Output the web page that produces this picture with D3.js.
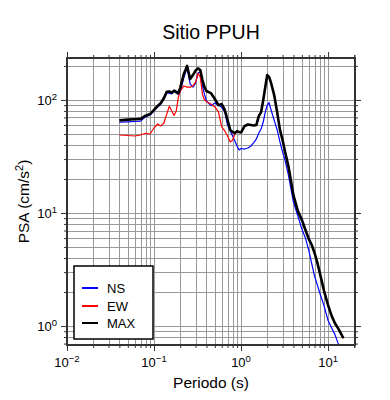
<!DOCTYPE html>
<html>
<head>
<meta charset="utf-8">
<script src="https://cdn.jsdelivr.net/npm/d3@7"></script>
<style>
html,body{margin:0;padding:0;background:#fff;}
svg{display:block;font-family:"Liberation Sans",Arial,Helvetica,sans-serif;}
</style>
</head>
<body>
<script>
const title = "Sitio PPUH";
const xLabel = "Periodo (s)";
const periods = [0.04,0.05,0.06,0.07,0.08,0.09,0.1,0.11,0.12,0.13,0.14,0.15,0.16,0.17,0.18,0.19,0.2,
  0.22,0.24,0.26,0.28,0.3,0.32,0.34,0.36,0.38,0.4,
  0.45,0.5,0.55,0.6,0.65,0.7,0.75,0.8,0.85,0.9,0.95,
  1.0,1.1,1.2,1.3,1.4,1.5,1.6,1.7,1.8,1.9,2.0,
  2.1,2.2,2.4,2.6,2.8,3.0,3.2,3.5,
  4.0,4.5,5.0,5.5,6.0,6.5,7.0,7.5,8.0,
  9,10,11,12,13,14,15];
const ns = [63.5,64,64.5,65,70.8,73.6,80,86.7,92,102,115,115,113,119,115,112,118,
  157,192,139,130,141,173,177,133,112,98,
  89,94,90,86,78.5,60,53.2,48,43.4,39.2,36.1,
  37.2,36.8,37.6,39.2,42,45.2,51,55.4,63.8,78.3,90,
  94.5,83,66.5,54.3,42.5,34.7,29.4,21.7,
  12.5,9.4,7.2,6.0,4.7,3.55,2.75,2.34,1.98,
  1.51,1.12,0.96,0.84,0.71,0.62,0.55];
const ew = [49,48.5,48,49,50.7,50,56.5,61.3,58.9,62.5,75,88,80,73,80,105,120,
  133,130,130,133,144,172,160,112,100,97,
  92,86.7,78.3,57.7,53.2,48,42.5,44.3,50,53,52,
  51.5,58.9,60.7,60,59.4,60.1,72,78,100,130,166,
  160,144,111,78,54.3,44.3,35,26,
  14.4,10.4,8.7,7.07,5.9,5.21,4.43,3.68,3.0,
  2.04,1.53,1.23,1.06,0.96,0.867,0.78];
const maxv = [66,67,67.5,68,72.6,75,81.6,88.5,94,104,118,119,116,121,118,115,128,
  170,200,153,166,182,190,184,150,130,120,
  115,102,90,92,81.6,66.5,54.3,52,51,53,52,
  51.5,58.9,60.7,60,59.4,60.1,72,78,100,130,166,
  160,144,111,78,54.3,44.3,35,26,
  14.4,10.4,8.7,7.07,5.9,5.21,4.43,3.68,3.0,
  2.04,1.53,1.23,1.06,0.96,0.867,0.78];
const seriesNames = ["NS","EW","MAX"];
const seriesColors = ["#0000ff","#ff0000","#000000"];
const xMajor = [0.01,0.1,1,10];
const xMajorExp = ["−2","−1","0","1"];
const yMajor = [1,10,100];
const yMajorExp = ["0","1","2"];

const W = 390, H = 400;
const L = 67, R = 355, T = 58, B = 345;
const x = d3.scaleLog().domain([0.01, 20.4]).range([L, R]);
const y = d3.scaleLog().domain([0.68, 235]).range([B, T]);

const xMinor = [];
[0.01,0.1,1,10].forEach(d => { for (let k=2;k<=9;k++){ const v=d*k; if (v<=20.4) xMinor.push(v);} });
xMinor.push(20);
const yMinor = [0.7,0.8,0.9];
[1,10,100].forEach(d => { for (let k=2;k<=9;k++){ const v=d*k; if (v<=235) yMinor.push(v);} });

const svg = d3.select("body").append("svg").attr("width",W).attr("height",H);
svg.append("rect").attr("width",W).attr("height",H).attr("fill","#fff");

const grid = svg.append("g").attr("stroke","#999").attr("stroke-width",1);
xMajor.concat(xMinor).forEach(v => {
  const px = Math.round(x(v)) + 0.5;
  grid.append("line").attr("x1",px).attr("x2",px).attr("y1",T).attr("y2",B);
});
yMajor.concat(yMinor).forEach(v => {
  const py = Math.round(y(v)) + 0.5;
  grid.append("line").attr("x1",L).attr("x2",R).attr("y1",py).attr("y2",py);
});

function styleAxis(g){ g.select(".domain").remove(); g.selectAll("line").attr("stroke","#333"); g.selectAll("text").remove(); }
svg.append("g").attr("transform",`translate(0,${B})`).call(d3.axisBottom(x).tickValues(xMajor).tickSize(6).tickSizeOuter(0)).call(styleAxis);
svg.append("g").attr("transform",`translate(0,${B})`).call(d3.axisBottom(x).tickValues(xMinor).tickSize(3).tickSizeOuter(0)).call(styleAxis);
svg.append("g").attr("transform",`translate(0,${T})`).call(d3.axisTop(x).tickValues(xMajor).tickSize(6).tickSizeOuter(0)).call(styleAxis);
svg.append("g").attr("transform",`translate(0,${T})`).call(d3.axisTop(x).tickValues(xMinor).tickSize(3).tickSizeOuter(0)).call(styleAxis);
svg.append("g").attr("transform",`translate(${L},0)`).call(d3.axisLeft(y).tickValues(yMajor).tickSize(6).tickSizeOuter(0)).call(styleAxis);
svg.append("g").attr("transform",`translate(${L},0)`).call(d3.axisLeft(y).tickValues(yMinor).tickSize(3).tickSizeOuter(0)).call(styleAxis);
svg.append("g").attr("transform",`translate(${R},0)`).call(d3.axisRight(y).tickValues(yMajor).tickSize(6).tickSizeOuter(0)).call(styleAxis);
svg.append("g").attr("transform",`translate(${R},0)`).call(d3.axisRight(y).tickValues(yMinor).tickSize(3).tickSizeOuter(0)).call(styleAxis);

svg.append("clipPath").attr("id","clip").append("rect").attr("x",L).attr("y",T).attr("width",R-L).attr("height",B-T);

const line = d3.line().x(d => x(d[0])).y(d => y(d[1]));
const seriesData = [ns, ew, maxv];
const widths = [1.2, 1.2, 2.6];
const plot = svg.append("g").attr("clip-path","url(#clip)");
seriesData.forEach((vals,i) => {
  plot.append("path").datum(periods.map((p,j)=>[p, vals[j]]))
    .attr("fill","none").attr("stroke",seriesColors[i]).attr("stroke-width",widths[i])
    .attr("stroke-linejoin","round").attr("d", line);
});

svg.append("rect").attr("x",L).attr("y",T).attr("width",R-L).attr("height",B-T)
  .attr("fill","none").attr("stroke","#333").attr("stroke-width",2);

xMajor.forEach((v,i) => {
  const t = svg.append("text").attr("x", x(v)).attr("y", 367).attr("text-anchor","middle")
    .attr("font-size",13).attr("fill","#000");
  t.append("tspan").text("10");
  t.append("tspan").attr("dy",-5).attr("font-size",9.5).text(xMajorExp[i]);
});
yMajor.forEach((v,i) => {
  const t = svg.append("text").attr("x", 57).attr("y", y(v)+5).attr("text-anchor","end")
    .attr("font-size",13).attr("fill","#000");
  t.append("tspan").text("10");
  t.append("tspan").attr("dy",-5).attr("font-size",9.5).text(yMajorExp[i]);
});

svg.append("text").attr("x",(L+R)/2).attr("y",39).attr("text-anchor","middle").attr("font-size",19.5).text(title);
svg.append("text").attr("x",(L+R)/2).attr("y",388).attr("text-anchor","middle").attr("font-size",15.5).text(xLabel);
const yl = svg.append("text").attr("transform",`translate(29,${(T+B)/2}) rotate(-90)`).attr("text-anchor","middle").attr("font-size",15.5);
yl.append("tspan").text("PSA (cm/s");
yl.append("tspan").attr("dy",-6).attr("font-size",11).text("2");
yl.append("tspan").attr("dy",6).text(")");

const lg = svg.append("g");
lg.append("rect").attr("x",74).attr("y",266).attr("width",79).attr("height",73)
  .attr("fill","#fff").attr("stroke","#000").attr("stroke-width",1.5);
const ly = [288, 306, 323];
seriesNames.forEach((n,i) => {
  lg.append("line").attr("x1",82).attr("x2",98).attr("y1",ly[i]).attr("y2",ly[i])
    .attr("stroke",seriesColors[i]).attr("stroke-width",2);
  lg.append("text").attr("x",107).attr("y",ly[i]+5).attr("font-size",13).text(n);
});
</script>
</body>
</html>
